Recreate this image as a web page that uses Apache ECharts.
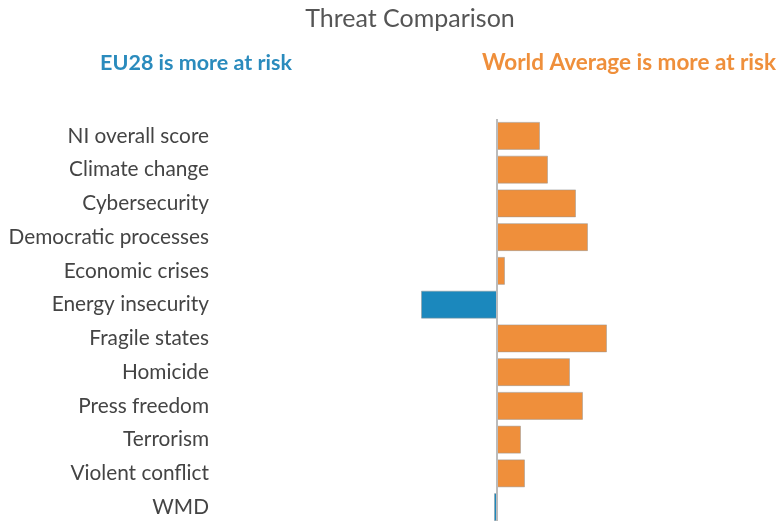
<!DOCTYPE html>
<html>
<head>
<meta charset="utf-8">
<script src="https://cdn.jsdelivr.net/npm/echarts@6/dist/echarts.min.js"></script>
<style>
html,body{margin:0;padding:0;background:#fff;}
#main{width:783px;height:521px;}
</style>
</head>
<body>
<div id="main"></div>
<script>
//类别
let threats = ['NI overall score','Climate change','Cybersecurity','Democratic processes','Economic crises','Energy insecurity','Fragile states','Homicide','Press freedom','Terrorism','Violent conflict','WMD']
//差值 (正 = World Average 风险更高, 负 = EU28 风险更高)
let diffValues = [43, 51, 79, 91, 8, -76, 110, 73, 86, 24, 28, -3]

let myChart = echarts.init(document.getElementById('main'))

let barData = diffValues.map(v => {
    return {
        value: v,
        itemStyle: {color: v < 0 ? '#1b88bd' : '#ef8f3b'}
    }
})

let option = {
    animation: false,
    textStyle: {fontFamily: 'Lato'},
    title: [
        {
            text: 'Threat Comparison',
            left: 405, top: 1, textAlign: 'center',
            textStyle: {fontSize: 25, fontWeight: 'normal', color: '#555', fontFamily: 'Lato'}
        },
        {
            text: 'EU28 is more at risk',
            left: 191, top: 47, textAlign: 'center',
            textStyle: {fontSize: 21.5, fontWeight: 'bold', color: '#2a8bbd', fontFamily: 'Lato'}
        },
        {
            text: 'World Average is more at risk',
            right: 2, top: 46,
            textStyle: {fontSize: 22.5, fontWeight: 'bold', color: '#ef8f3b', fontFamily: 'Lato'}
        }
    ],
    grid: {left: 215, right: 0, top: 119, height: 405, outerBoundsMode: 'none', containLabel: false},
    xAxis: {
        type: 'value',
        min: -282,
        max: 286,
        show: false
    },
    yAxis: {
        type: 'category',
        data: threats,
        inverse: true,
        axisLine: {show: false},
        axisTick: {show: false},
        axisLabel: {margin: 6, fontSize: 20.8, color: '#444', fontFamily: 'Lato'}
    },
    series: [
        {
            type: 'bar',
            data: barData,
            barWidth: 28,
            itemStyle: {borderColor: 'rgba(150,150,150,0.5)', borderWidth: 1},
            markLine: {
                silent: true,
                symbol: 'none',
                label: {show: false},
                lineStyle: {color: '#bbb', width: 2, type: 'solid'},
                data: [{xAxis: 0}]
            }
        }
    ]
}
myChart.setOption(option)
</script>
</body>
</html>
